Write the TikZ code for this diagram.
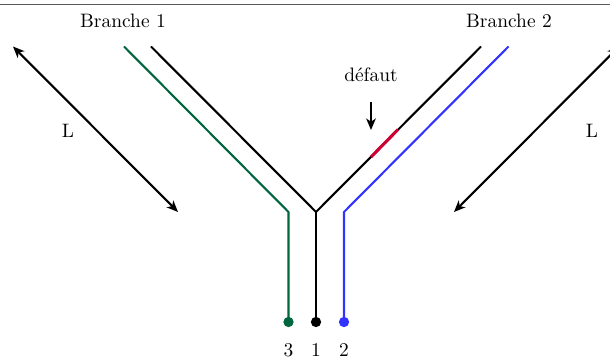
\documentclass[tikz,border=0pt]{standalone}
\usetikzlibrary{arrows.meta}
\definecolor{cgreen}{RGB}{0,102,61}
\definecolor{cblue}{RGB}{51,51,255}
\definecolor{cred}{RGB}{204,0,51}
\tikzset{
  wire/.style={line width=1.1pt,line join=round},
  dimarrow/.style={line width=1.1pt,-{Stealth[length=6pt,width=5pt,inset=1.7pt]}},
  bothdim/.style={line width=1.1pt,{Stealth[length=6pt,width=5pt,inset=1.7pt]}-{Stealth[length=6pt,width=5pt,inset=1.7pt]}},
  dot/.style={circle,fill,inner sep=0pt,minimum size=5.4pt},
  lbl/.style={inner sep=0pt,scale=1.02}
}
\begin{document}
\begin{tikzpicture}[x=0.525pt,y=-0.525pt]
\useasboundingbox (0,0) rectangle (610,360);
\clip (0,0) rectangle (610,360);
\coordinate (tl) at (0,4.5);
\coordinate (tr) at (610,4.5);
\draw[gray!70!black,line width=0.7pt] (tl) -- (tr);
% ends
\coordinate (b1) at (151,46.5);
\coordinate (b2) at (481,46.5);
\coordinate (j1) at (316,212);
\coordinate (g1) at (124,46.5);
\coordinate (gj) at (288.5,212);
\coordinate (u1) at (508.5,46.5);
\coordinate (uj) at (344,212);
\node[dot,black] (d1) at (316,322) {};
\node[dot,cgreen] (d3) at (288.5,322) {};
\node[dot,cblue] (d2) at (344,322) {};
\draw[wire] (b1) -- (j1) -- (b2);
\draw[wire] (j1) -- (d1.center);
\draw[wire,cgreen] (g1) -- (gj) -- (d3.center);
\draw[wire,cblue] (u1) -- (uj) -- (d2.center);
\coordinate (r1) at (371,157);
\coordinate (r2) at (398,129.5);
\draw[cred,line width=1.6pt] (r1) -- (r2);
\coordinate (a1) at (371,102);
\coordinate (a2) at (371,130);
\draw[dimarrow] (a1) -- (a2);
\coordinate (l1) at (13,46.5);
\coordinate (l2) at (178,212);
\draw[bothdim] (l1) -- (l2);
\coordinate (m1) at (454,212);
\coordinate (m2) at (619,46.5);
\draw[bothdim] (m1) -- (m2);
\node[lbl] (t1) at (123,20.5) {Branche 1};
\node[lbl] (t2) at (509,20.5) {Branche 2};
\node[lbl] (t3) at (371,75) {défaut};
\node[lbl] (t4) at (68,130.5) {L};
\node[lbl] (t5) at (592,130.5) {L};
\node[lbl] (n3) at (288.5,350) {3};
\node[lbl] (n1) at (316,350) {1};
\node[lbl] (n2) at (344,350) {2};
\end{tikzpicture}
\end{document}
